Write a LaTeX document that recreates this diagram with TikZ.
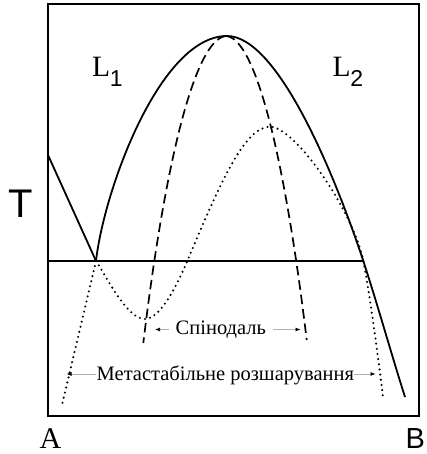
\documentclass[tikz,border=0pt]{standalone}
\usepackage{fontspec}
\setmainfont{Liberation Serif}
\newfontfamily\sansf{Liberation Sans}
\usetikzlibrary{arrows.meta}
\begin{document}
\begin{tikzpicture}[x=1pt,y=-1pt,
  solidline/.style={line width=1.8pt},
  frameline/.style={line width=1.3pt},
  dashline/.style={line width=1.7pt, dash pattern=on 9.5pt off 5pt},
  dotline/.style={line width=2.3pt, line cap=round, dash pattern=on 0pt off 5.2pt},
  arr/.style={draw=gray!60, line width=0.7pt, -{Latex[length=5pt,width=4pt,color=black]}},
  lbl/.style={inner sep=0pt, anchor=base west}]
\useasboundingbox (0,0) rectangle (426,454);
% frame
\draw[frameline] (48,4) rectangle (419,416);
% horizontal line
\draw[frameline] (48,261) -- (363.3,261);
% left liquidus
\draw[solidline] (48,155) -- (96,261);
% binodal
\draw[solidline] (96,261) .. controls (104,190) and (160,36) .. (227,36)
  .. controls (277,36) and (333.6,171) .. (363.3,261)
  .. controls (376.5,301) and (392.2,357) .. (405,397);
% spinodal
\draw[dashline] (226,36) .. controls (195,39) and (164.9,163) .. (143.3,343);
\draw[dashline] (226,36) .. controls (256,38) and (285.1,160) .. (306.7,340);
% metastable dotted curves
\draw[dotline] (96,261) -- (62,405);
\draw[dotline] (96,261) .. controls (108,279) and (127,319) .. (145,319)
  .. controls (160,319) and (176.8,286) .. (187.3,261)
  .. controls (220.9,181) and (245,126.7) .. (270,126.7)
  .. controls (295,126.7) and (353.3,211) .. (363.3,261)
  .. controls (369.3,291) and (378.2,357) .. (383,397);
% labels
\node[lbl] (l1) at (92,77) {\fontsize{29.5}{30}\selectfont L\kern-0.3pt\raisebox{-10pt}{\sansf\fontsize{23}{24}\selectfont 1}};
\node[lbl] (l2) at (332.5,77) {\fontsize{29.5}{30}\selectfont L\kern-0.3pt\raisebox{-10pt}{\sansf\fontsize{23}{24}\selectfont 2}};
\node[lbl] (t) at (8,217.7) {\sansf\fontsize{40}{40}\selectfont T};
\node[lbl] (a) at (39.5,448) {\fontsize{30}{30}\selectfont A};
\node[lbl] (b) at (405.5,448) {\sansf\fontsize{29}{29}\selectfont B};
\node[lbl] (sp) at (175.5,334) {\fontsize{20.5}{22}\selectfont Спінодаль};
\node[lbl] (ms) at (96.5,380) {\fontsize{20.5}{22}\selectfont Метастабільне розшарування};
% arrows
\coordinate (spLs) at (168.5,329.5);
\coordinate (spLe) at (155,329.5);
\coordinate (spRs) at (272.7,329.5);
\coordinate (spRe) at (300.5,329.5);
\coordinate (msLs) at (96,374);
\coordinate (msLe) at (66.5,374);
\coordinate (msRs) at (353.5,374);
\coordinate (msRe) at (375.5,374);
\draw[arr] (spLs) -- (spLe);
\draw[arr] (spRs) -- (spRe);
\draw[arr] (msLs) -- (msLe);
\draw[arr] (msRs) -- (msRe);
\end{tikzpicture}
\end{document}
